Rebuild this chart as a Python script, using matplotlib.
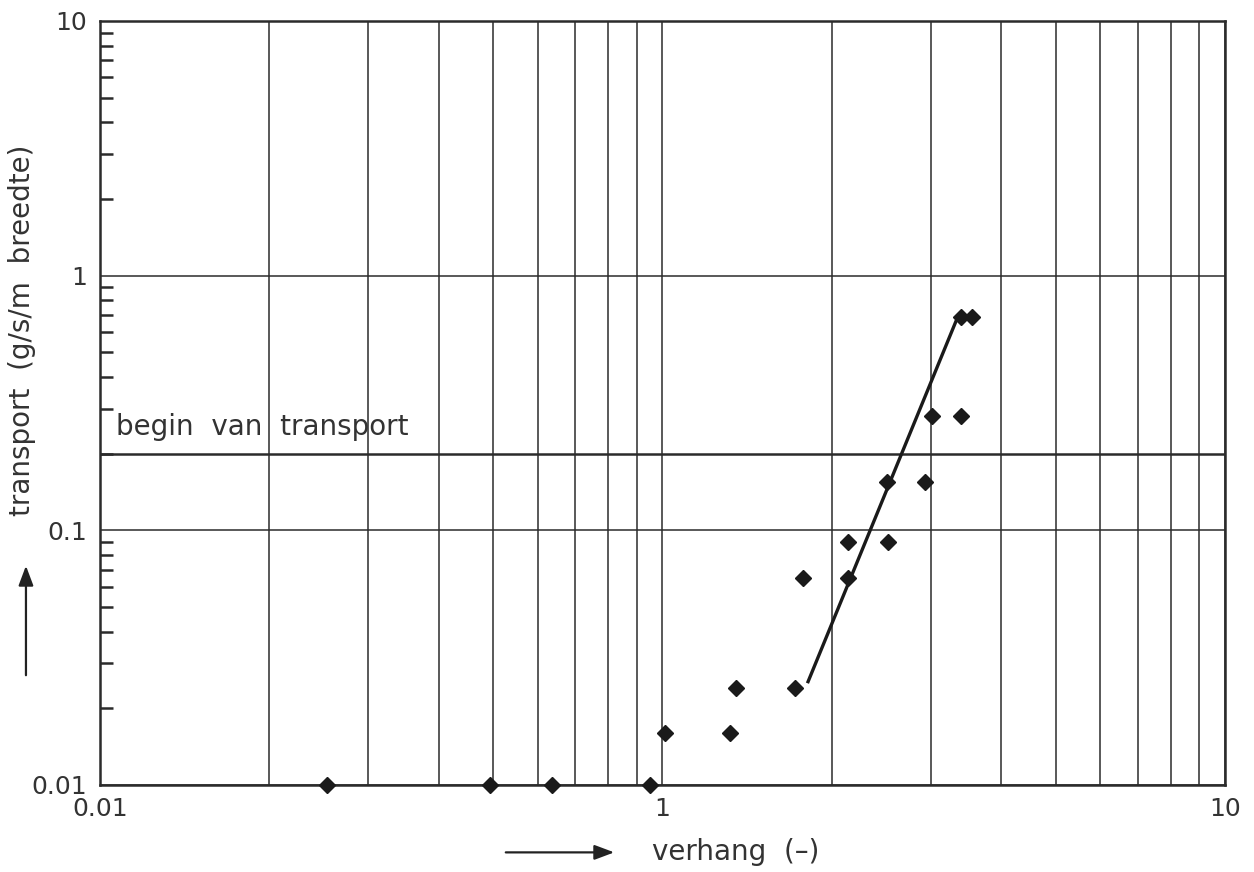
import matplotlib
matplotlib.use("Agg")
import matplotlib.pyplot as plt
from matplotlib.ticker import LogLocator, NullFormatter

# meetpunten: verhang (-) tegen transport (g/s/m breedte)
verhang = [0.253, 0.493, 0.636, 0.95, 1.01, 1.32, 1.35, 1.72, 1.78,
           2.14, 2.14, 2.52, 2.51, 2.93, 3.01, 3.39, 3.39, 3.55]
transport = [0.01, 0.01, 0.01, 0.01, 0.016, 0.016, 0.024, 0.024, 0.065,
             0.065, 0.09, 0.09, 0.155, 0.155, 0.28, 0.28, 0.69, 0.69]

# trendlijn door de punten
lijn_x = [1.81, 3.35]
lijn_y = [0.0251, 0.69]

begin_transport = 0.2

xticks = [0.1, 1, 10]
xticklabels = ["0.01", "1", "10"]
yticks = [0.01, 0.1, 1, 10]
yticklabels = ["0.01", "0.1", "1", "10"]

ink = "#2b2b2b"
txt = "#333333"
plt.rcParams["font.family"] = ["DejaVu Sans"]

fig = plt.figure(figsize=(12.54, 8.72), dpi=100)
ax = fig.add_axes([0.0797, 0.0998, 0.8972, 0.8762])
ax.set_xscale("log")
ax.set_yscale("log")
ax.set_xlim(0.1, 10)
ax.set_ylim(0.01, 10)

# raster: verticaal op elke 1..9, horizontaal alleen op de decaden
ax.xaxis.set_minor_locator(LogLocator(base=10, subs=range(2, 10)))
ax.xaxis.set_minor_formatter(NullFormatter())
ax.yaxis.set_minor_locator(LogLocator(base=10, subs=range(2, 10)))
ax.yaxis.set_minor_formatter(NullFormatter())
ax.grid(True, which="both", axis="x", color=ink, lw=1.1)
ax.grid(True, which="major", axis="y", color=ink, lw=1.1)

ax.set_xticks(xticks)
ax.set_xticklabels(xticklabels)
ax.set_yticks(yticks)
ax.set_yticklabels(yticklabels)
ax.tick_params(axis="both", which="major", length=0, labelsize=18,
               labelcolor=txt, pad=9)
ax.tick_params(axis="x", which="minor", length=0)
ax.tick_params(axis="y", which="minor", direction="in", length=9,
               width=1.8, color=ink)

for s in ax.spines.values():
    s.set_color(ink)
    s.set_linewidth(1.8)

# begin van transport
ax.axhline(begin_transport, color=ink, lw=1.8)
ax.text(0.107, begin_transport * 1.12, "begin  van  transport", fontsize=20,
        color=txt, ha="left", va="bottom")

ax.plot(lijn_x, lijn_y, color="#1a1a1a", lw=2.4, solid_capstyle="butt")
ax.plot(verhang, transport, "D", color="#1a1a1a", ms=8, clip_on=False,
        zorder=5)

# aslabels met pijlen
fig.text(0.587, 0.0235, "verhang  (\u2013)", fontsize=20, color=txt,
         ha="center", va="center")
fig.add_artist(matplotlib.patches.FancyArrowPatch(
    (503 / 1254, 0.0225), (617 / 1254, 0.0225), transform=fig.transFigure,
    arrowstyle="-|>,head_length=12,head_width=4.5", color="#222222", lw=1.6,
    mutation_scale=1))
fig.text(0.0175, 0.6216, "transport  (g/s/m  breedte)", fontsize=20,
         color=txt, rotation=90, ha="center", va="center")
fig.add_artist(matplotlib.patches.FancyArrowPatch(
    (0.0207, 1 - 678 / 872), (0.0207, 1 - 563 / 872),
    transform=fig.transFigure,
    arrowstyle="-|>,head_length=12,head_width=4.5", color="#222222", lw=1.6,
    mutation_scale=1))

fig.savefig("out.png", dpi=100)
